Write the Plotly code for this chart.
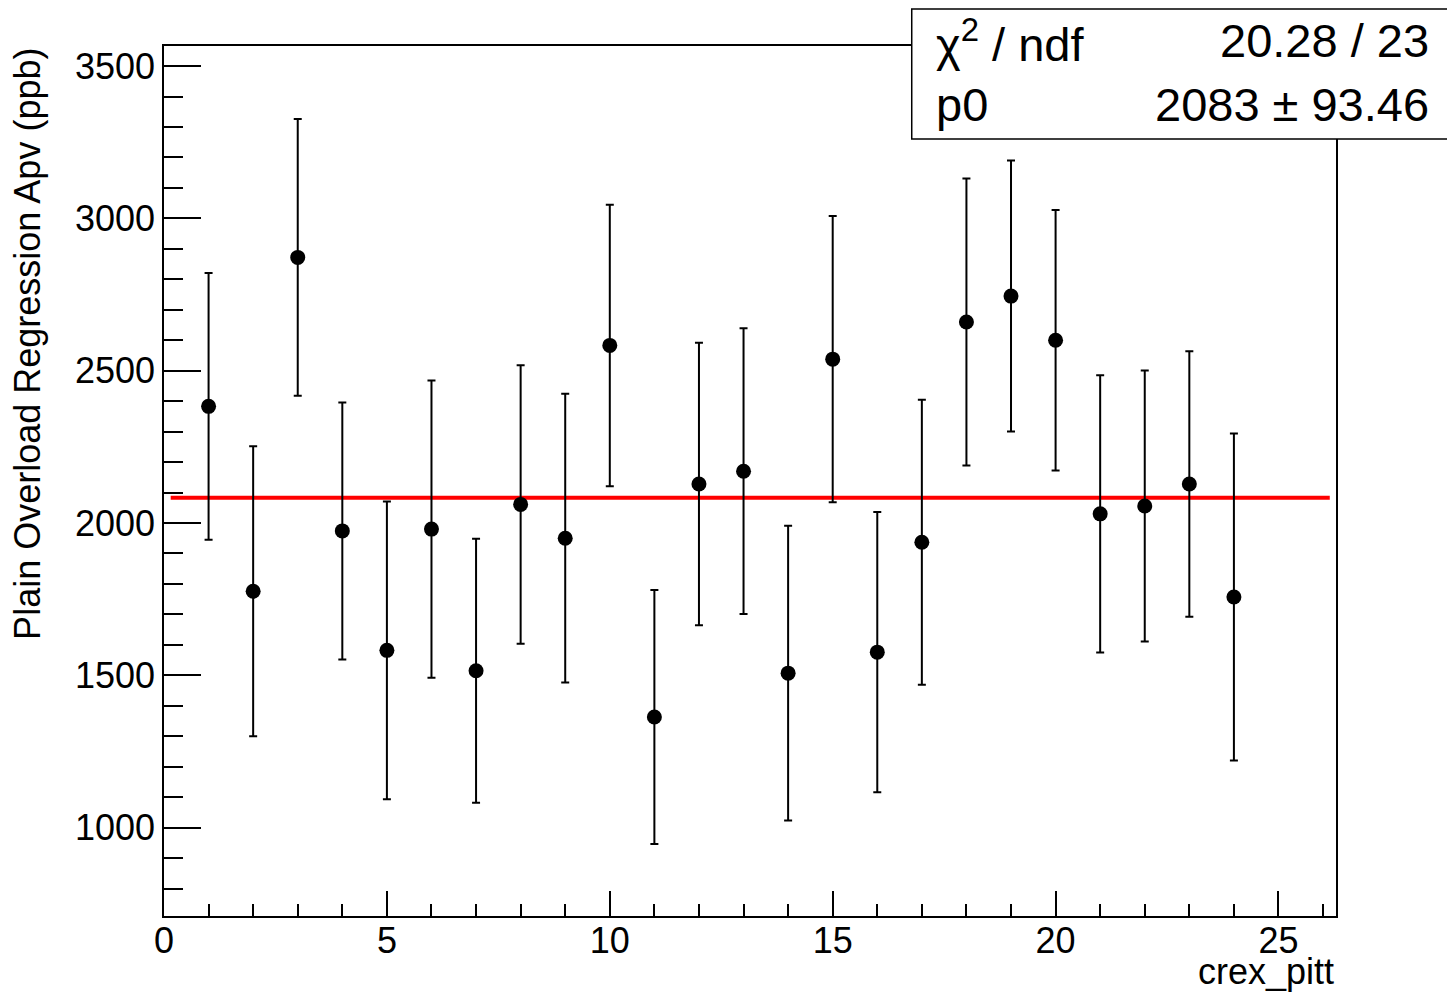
import plotly.graph_objects as go

# ---- data ----
runs = [1, 2, 3, 4, 5, 6, 7, 8, 9, 10, 11, 12, 13, 14, 15, 16, 17, 18, 19, 20, 21, 22, 23, 24]
apv = [2383, 1776, 2872, 1974, 1582, 1980, 1515, 2061, 1950, 2583, 1363, 2128,
       2170, 1507, 2538, 1576, 1937, 2660, 2745, 2600, 2030, 2056, 2128, 1757]
apv_err = [438, 476, 454, 422, 489, 488, 433, 457, 474, 462, 417, 464,
           469, 484, 470, 460, 468, 471, 445, 428, 455, 445, 436, 537]
fit_p0 = 2083
fit_p0_err = 93.46
chi2 = 20.28
ndf = 23
fit_range = [0.15, 26.15]
x_range = [0, 26.29]
y_range = [709.8, 3566]

FONT = "Liberation Sans, Arial, sans-serif"

fig = go.Figure()
fig.add_trace(go.Scatter(
    x=fit_range, y=[fit_p0, fit_p0], mode="lines",
    line=dict(color="#ff0000", width=4), hoverinfo="skip", showlegend=False))
fig.add_trace(go.Scatter(
    x=runs, y=apv, mode="markers",
    marker=dict(color="black", size=15, symbol="circle"),
    error_y=dict(type="data", array=apv_err, visible=True, color="black",
                 thickness=2, width=4),
    showlegend=False))

axis_common = dict(
    showgrid=False, zeroline=False, showline=True, linecolor="black", linewidth=1.5,
    mirror=True, ticks="inside", tickcolor="black", tickwidth=1.5,
    tickfont=dict(family=FONT, size=36, color="black"),
)

fig.update_xaxes(range=x_range, tickmode="linear", tick0=0, dtick=5, ticklen=25,
                 ticklabelstandoff=-8,
                 minor=dict(ticks="inside", dtick=1, tick0=0, ticklen=12,
                            tickcolor="black", tickwidth=1.5, showgrid=False),
                 **axis_common)
fig.update_yaxes(range=y_range, tickmode="linear", tick0=0, dtick=500, ticklen=37,
                 minor=dict(ticks="inside", dtick=100, tick0=0, ticklen=19,
                            tickcolor="black", tickwidth=1.5, showgrid=False),
                 **axis_common)

# stats box
fig.add_shape(type="rect", xref="paper", yref="paper", x0=0.638, x1=1.11,
              y0=0.893, y1=1.0425, fillcolor="white",
              line=dict(color="black", width=1.5), layer="above")

stat_font = dict(family=FONT, size=47, color="black")
fig.add_annotation(xref="paper", yref="paper", x=0.657, y=1.006,
                   text="\u03c7<sup>2</sup> / ndf", showarrow=False,
                   xanchor="left", yanchor="middle", font=stat_font)
fig.add_annotation(xref="paper", yref="paper", x=1.081, y=1.006,
                   text=f"{chi2:.2f} / {ndf}", showarrow=False,
                   xanchor="right", yanchor="middle", font=stat_font)
fig.add_annotation(xref="paper", yref="paper", x=0.657, y=0.933,
                   text="p0", showarrow=False,
                   xanchor="left", yanchor="middle", font=stat_font)
fig.add_annotation(xref="paper", yref="paper", x=1.081, y=0.933,
                   text=f"{fit_p0} \u00b1 {fit_p0_err:.2f}", showarrow=False,
                   xanchor="right", yanchor="middle", font=stat_font)

# axis titles
fig.add_annotation(xref="paper", yref="paper", x=1.0, y=-0.064,
                   text="crex_pitt", showarrow=False, xanchor="right",
                   yanchor="middle", font=dict(family=FONT, size=36, color="black"))
fig.add_annotation(xref="paper", yref="paper", x=-0.117, y=1.0,
                   text="Plain Overload Regression Apv (ppb)", showarrow=False,
                   textangle=-90, xanchor="center", yanchor="top",
                   font=dict(family=FONT, size=36, color="black"))

fig.update_layout(
    width=1447, height=985,
    margin=dict(l=156, r=119, t=38, b=77),
    paper_bgcolor="white", plot_bgcolor="white",
    showlegend=False,
)

fig.write_html("out.html")
